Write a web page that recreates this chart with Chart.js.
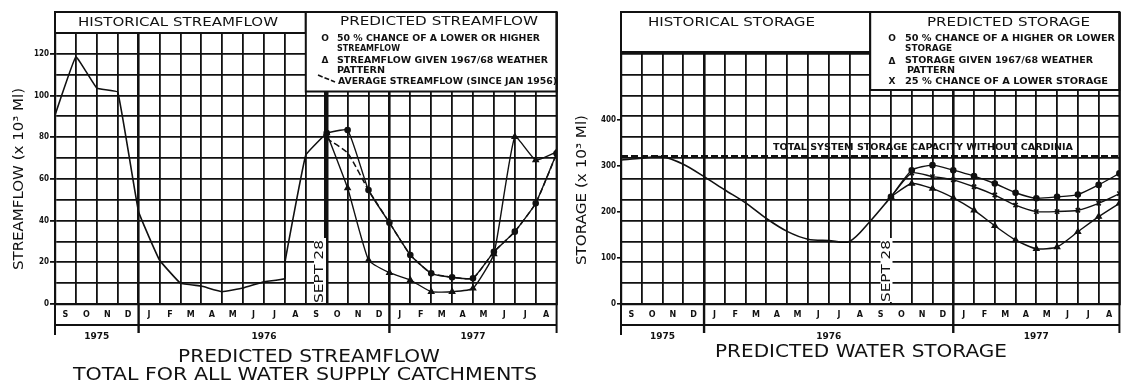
<!DOCTYPE html>
<html>
<head>
<meta charset="utf-8">
<script src="https://cdn.jsdelivr.net/npm/chart.js@4.4.1/dist/chart.umd.min.js"></script>
<style>
html,body{margin:0;padding:0;background:#fff;}
#wrap{position:relative;width:1125px;height:384px;overflow:hidden;background:#fff;}
#c1{position:absolute;left:0;top:0;}
#c2{position:absolute;left:562px;top:0;}
</style>
</head>
<body>
<div id="wrap">
<canvas id="c1" width="562" height="384"></canvas>
<canvas id="c2" width="563" height="384"></canvas>
</div>
<script>
// ---------------- DATA ----------------
const months = ['S','O','N','D','J','F','M','A','M','J','J','A','S','O','N','D','J','F','M','A','M','J','J','A'];
const yearLabels = ['1975','1976','1977'];
const yearStartMonth = [0, 4, 16];
const septMonth = 13;

const flowTicks = [0, 20, 40, 60, 80, 100, 120];
const storageTicks = [0, 100, 200, 300, 400];

const histFlowMonth = [0,1,2,3,4,5,6,7,8,9,10,11,11,12,13];
const histFlow      = [90.6,118.5,103.5,101.6,44.2,21.1,10,8.6,5.9,7.7,10.7,12.2,19.8,71.4,82];

const predMonth = [13,14,15,16,17,18,19,20,21,22,23,24];
const flow50    = [82,83.4,54.6,39,23.5,14.7,12.8,12.3,25,34.7,48.3,72.2];
const flow6768  = [82,55.6,21.1,15,11.5,5.9,5.9,7.5,24,80.2,69,72.9];
const flowAvg   = [79.4,72.4,54.6,39,23.5,14.7,12.8,12.3,25,34.7,48.3,72];

const histStorMonth = [0,1,2,3,4,5,6,7,8,9,10,11,12,13];
const histStor      = [313,317,320,304,277,248,220,186,158,141,138,136,180,233];
const stor50   = [233,291,302,291,278,262,242,230,233,238,259,284];
const stor25   = [233,285,277,270,255,237,215,201,201,204,219,240];
const stor6768 = [233,262,251,231,204,170,139,120,124,157,190,219];
const storageCapacity = 322;

// ---------------- TEXT ----------------
const flowYTitle = 'STREAMFLOW (x 10³ Ml)';
const storYTitle = 'STORAGE (x 10³ Ml)';
const flowTitle1 = 'PREDICTED STREAMFLOW';
const flowTitle2 = 'TOTAL FOR ALL WATER SUPPLY CATCHMENTS';
const storTitle  = 'PREDICTED WATER STORAGE';
const capacityText = 'TOTAL SYSTEM STORAGE CAPACITY WITHOUT CARDINIA';
const septText = 'SEPT 28';

const BLACK = '#111';
Chart.defaults.font.family = "'DejaVu Sans', sans-serif";
Chart.defaults.color = BLACK;

function pts(xs, ys){ return xs.map((x,i)=>({x:x, y:ys[i]})); }

function fitText(ctx, text, x0, x1, cy, font, rot){
  ctx.save();
  ctx.font = font;
  const m = ctx.measureText(text).width;
  const w = Math.abs(x1 - x0);
  ctx.translate((x0 + x1) / 2, cy);
  if (rot) ctx.rotate(rot);
  ctx.scale(w / m, 1);
  ctx.textAlign = 'center';
  ctx.textBaseline = 'middle';
  ctx.fillStyle = BLACK;
  ctx.fillText(text, 0, 0);
  ctx.restore();
}
function vText(ctx, text, cx, y0, y1, font){
  ctx.save();
  ctx.font = font;
  const m = ctx.measureText(text).width;
  ctx.translate(cx, (y0 + y1) / 2);
  ctx.rotate(-Math.PI / 2);
  ctx.scale(Math.abs(y1 - y0) / m, 1);
  ctx.textAlign = 'center';
  ctx.textBaseline = 'middle';
  ctx.fillStyle = BLACK;
  ctx.fillText(text, 0, 0);
  ctx.restore();
}
function line(ctx, x0, y0, x1, y1, w){
  ctx.beginPath(); ctx.lineWidth = w; ctx.strokeStyle = BLACK;
  ctx.moveTo(x0, y0); ctx.lineTo(x1, y1); ctx.stroke();
}

const headFont = "13px 'DejaVu Sans'";
const legFont = "bold 9px 'DejaVu Sans Condensed', 'DejaVu Sans'";
const monthFont = "bold 8px 'DejaVu Sans'";
const yearFont = "bold 9px 'DejaVu Sans'";
const titleFont = "18px 'DejaVu Sans'";
const axisFont = "14px 'DejaVu Sans'";
const septFont = "13px 'DejaVu Sans'";

function makeDecor(d){
  return {
    id: 'decor',
    beforeDatasetsDraw(chart){
      const ctx = chart.ctx, X = v => chart.scales.x.getPixelForValue(v);
      ctx.save();
      // SEPT 28 label background
      ctx.fillStyle = '#fff';
      ctx.fillRect(d.sept.cx - 6, d.sept.y0 - 2, 12, d.sept.y1 - d.sept.y0 + 2);
      vText(ctx, septText, d.sept.cx, d.sept.y1, d.sept.y0, septFont);
      // header boxes
      ctx.lineWidth = 2; ctx.strokeStyle = BLACK;
      d.boxes.forEach(b => {
        const x0 = X(b.m0), x1 = X(b.m1);
        ctx.fillStyle = '#fff';
        ctx.fillRect(x0, b.top, x1 - x0, b.bottom - b.top);
        ctx.strokeRect(x0, b.top, x1 - x0, b.bottom - b.top);
      });
      ctx.restore();
    },
    afterDraw(chart){
      const ctx = chart.ctx, X = v => chart.scales.x.getPixelForValue(v);
      const ca = chart.chartArea;
      ctx.save();
      // strip + frame
      line(ctx, X(0), 325, X(24), 325, 2);
      line(ctx, X(0), ca.top, X(0), 335, 2);
      line(ctx, X(24), ca.top, X(24), 333, 2);
      yearStartMonth.forEach((m, i) => { if (i > 0) line(ctx, X(m), ca.bottom, X(m), 333, 2.4); });
      // month labels
      ctx.font = monthFont; ctx.fillStyle = BLACK; ctx.textAlign = 'center'; ctx.textBaseline = 'middle';
      months.forEach((mo, i) => ctx.fillText(mo, X(i + 0.5), 315));
      // year labels
      ctx.font = yearFont;
      yearLabels.forEach((y, i) => {
        const s = yearStartMonth[i], e = i + 1 < yearStartMonth.length ? yearStartMonth[i + 1] : months.length;
        ctx.fillText(y, X((s + e) / 2), 337);
      });
      // headings
      d.heads.forEach(h => fitText(ctx, h[0], h[1], h[2], h[3], headFont));
      d.legend.forEach(h => fitText(ctx, h[0], h[1], h[2], h[3], legFont));
      ctx.font = "bold 9px 'DejaVu Sans'"; ctx.textAlign = 'center'; ctx.textBaseline = 'middle'; ctx.fillStyle = BLACK;
      d.symbols.forEach(s => ctx.fillText(s[0], s[1], s[2]));
      if (d.dashSym) {
        ctx.save(); ctx.setLineDash([5, 2]);
        line(ctx, d.dashSym[0], d.dashSym[1], d.dashSym[2], d.dashSym[3], 1.6);
        ctx.restore();
      }
      if (d.capText) fitText(ctx, capacityText, d.capText[0], d.capText[1], d.capText[2], "bold 9px 'DejaVu Sans Condensed', 'DejaVu Sans'");
      // axis title
      vText(ctx, d.yTitle[0], d.yTitle[1], d.yTitle[3], d.yTitle[2], axisFont);
      // chart titles
      d.titles.forEach(t => fitText(ctx, t[0], t[1], t[2], t[3], titleFont));
      ctx.restore();
    }
  };
}

const tickFont = {family: "'DejaVu Sans Condensed', 'DejaVu Sans'", size: 8, weight: 'bold'};

function xScale(septWidth){
  return {
    type: 'linear', min: 0, max: 24,
    afterFit(s){ s.height = 80; },
    ticks: {display: false, stepSize: 1, maxTicksLimit: 100},
    grid: {color: BLACK, drawTicks: false,
      lineWidth: c => { const v = c.tick ? c.tick.value : -1;
        if (v === septMonth) return septWidth;
        if (yearStartMonth.includes(v) && v > 0) return 2.6;
        return 1.8; }},
    border: {display: true, color: BLACK, width: 2.2}
  };
}

// ---------------- LEFT CHART ----------------
new Chart(document.getElementById('c1'), {
  type: 'line',
  data: {datasets: [
    {data: pts(histFlowMonth, histFlow), borderColor: BLACK, borderWidth: 1.6, pointRadius: 0, tension: 0.08},
    {data: pts(predMonth, flowAvg), borderColor: BLACK, borderWidth: 1.5, borderDash: [6, 3], pointRadius: 0, tension: 0.15},
    {data: pts(predMonth, flow50), borderColor: BLACK, borderWidth: 1.4, pointStyle: 'circle', pointRadius: 2.6, pointBackgroundColor: BLACK, pointBorderColor: BLACK, tension: 0.15},
    {data: pts(predMonth, flow6768), borderColor: BLACK, borderWidth: 1.4, pointStyle: 'triangle', pointRadius: 3, pointBackgroundColor: BLACK, pointBorderColor: BLACK, tension: 0.15}
  ]},
  options: {
    responsive: false, animation: false,
    layout: {padding: {top: 12, right: 3, left: 0, bottom: 0}},
    plugins: {legend: {display: false}, tooltip: {enabled: false}},
    scales: {
      x: xScale(4.5),
      y: {
        type: 'linear', min: 0, max: 140,
        afterFit(s){ s.width = 55; },
        ticks: {stepSize: 10, padding: 1, font: tickFont, color: BLACK,
          callback: v => flowTicks.includes(v) ? String(v) : ''},
        grid: {color: BLACK, lineWidth: 1.8, tickLength: 5,
          tickColor: c => (c.tick && flowTicks.includes(c.tick.value)) ? BLACK : 'rgba(0,0,0,0)'},
        border: {display: true, color: BLACK, width: 2.2}
      }
    }
  },
  plugins: [makeDecor({
    sept: {cx: 320, y0: 240, y1: 303},
    boxes: [{m0: 0, m1: 12, top: 12, bottom: 33}, {m0: 12, m1: 24, top: 12, bottom: 91.5}],
    heads: [['HISTORICAL STREAMFLOW', 78, 278, 23], ['PREDICTED STREAMFLOW', 340, 538, 22]],
    legend: [
      ['50 % CHANCE OF A LOWER OR HIGHER', 337, 540, 38.5],
      ['STREAMFLOW', 337, 400, 49],
      ['STREAMFLOW GIVEN 1967/68 WEATHER', 337, 548, 61],
      ['PATTERN', 337, 385, 71],
      ['AVERAGE STREAMFLOW (SINCE JAN 1956)', 338, 557, 82]
    ],
    symbols: [['O', 325, 38.5], ['Δ', 325, 61]],
    dashSym: [318, 75, 335, 82],
    yTitle: [flowYTitle, 19, 88, 270],
    titles: [[flowTitle1, 178, 440, 357.5], [flowTitle2, 73, 537, 375.5]]
  })]
});

// ---------------- RIGHT CHART ----------------
new Chart(document.getElementById('c2'), {
  type: 'line',
  data: {datasets: [
    {data: pts([0, 24], [storageCapacity, storageCapacity]), borderColor: BLACK, borderWidth: 2, borderDash: [7, 3], pointRadius: 0},
    {data: pts(histStorMonth, histStor), borderColor: BLACK, borderWidth: 1.6, pointRadius: 0, tension: 0.3},
    {data: pts(predMonth, stor50), borderColor: BLACK, borderWidth: 1.4, pointStyle: 'circle', pointRadius: 2.6, pointBackgroundColor: BLACK, pointBorderColor: BLACK, tension: 0.2},
    {data: pts(predMonth, stor25), borderColor: BLACK, borderWidth: 1.4, pointStyle: 'crossRot', pointRadius: 3, pointBorderWidth: 1.6, pointBorderColor: BLACK, tension: 0.2},
    {data: pts(predMonth, stor6768), borderColor: BLACK, borderWidth: 1.4, pointStyle: 'triangle', pointRadius: 3, pointBackgroundColor: BLACK, pointBorderColor: BLACK, tension: 0.2}
  ]},
  options: {
    responsive: false, animation: false,
    layout: {padding: {top: 12, right: 0, left: 0, bottom: 0}},
    plugins: {legend: {display: false}, tooltip: {enabled: false}},
    scales: {
      x: xScale(1.8),
      y: {
        type: 'linear', min: 0, max: 635, position: 'left',
        afterFit(s){ s.width = 59; },
        ticks: {stepSize: 100, includeBounds: false, padding: 1, font: tickFont, color: BLACK,
          callback: v => storageTicks.includes(v) ? String(v) : ''},
        grid: {drawOnChartArea: false, drawTicks: true, tickLength: 4, lineWidth: 1.6,
          tickColor: c => (c.tick && storageTicks.includes(c.tick.value)) ? BLACK : 'rgba(0,0,0,0)'},
        border: {display: true, color: BLACK, width: 2.2}
      },
      g: {
        type: 'linear', min: 0, max: 14, position: 'left',
        afterFit(s){ s.width = 0; },
        ticks: {display: false, stepSize: 1},
        grid: {color: BLACK, lineWidth: 1.8, drawTicks: false},
        border: {display: false}
      }
    }
  },
  plugins: [makeDecor({
    sept: {cx: 324.5, y0: 240, y1: 302},
    boxes: [{m0: 0, m1: 12, top: 12, bottom: 52}, {m0: 12, m1: 24, top: 12, bottom: 90}],
    heads: [['HISTORICAL STORAGE', 86, 253, 23], ['PREDICTED STORAGE', 365, 528, 23]],
    legend: [
      ['50 % CHANCE OF A HIGHER OR LOWER', 343, 553, 39],
      ['STORAGE', 343, 390, 49],
      ['STORAGE GIVEN 1967/68 WEATHER', 343, 531, 61],
      ['PATTERN', 345, 393, 71],
      ['25 % CHANCE OF A LOWER STORAGE', 343, 546, 82]
    ],
    symbols: [['O', 330, 39], ['Δ', 330, 61.5], ['X', 330, 82]],
    capText: [211, 511, 148],
    yTitle: [storYTitle, 20, 115, 265],
    titles: [[storTitle, 153, 445, 352.5]]
  })]
});
</script>
</body>
</html>
